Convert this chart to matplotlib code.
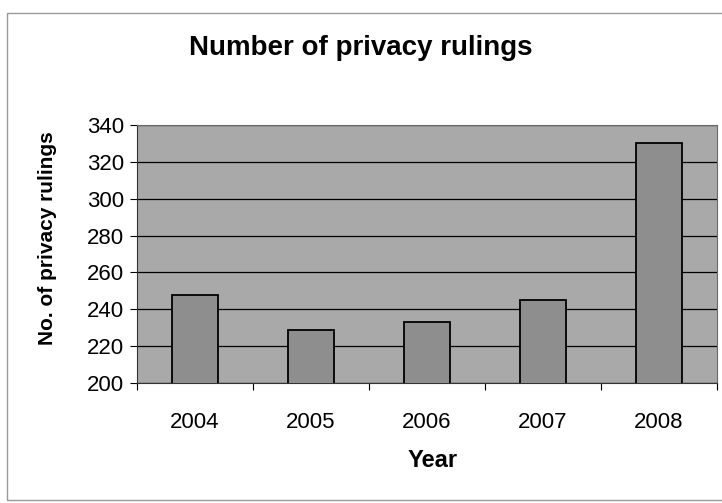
import matplotlib
matplotlib.use('Agg')
import matplotlib.pyplot as plt
from matplotlib.patches import Rectangle

years = ['2004', '2005', '2006', '2007', '2008']
rulings = [248, 229, 233, 245, 330]
y_ticks = [200, 220, 240, 260, 280, 300, 320, 340]

plt.rcParams['font.family'] = ['Liberation Sans', 'DejaVu Sans']


def main():
    fig = plt.figure(figsize=(7.22, 5.03), dpi=100)
    W, H = 722.0, 503.0
    ax = fig.add_axes([137 / W, 1 - 383 / H, (717 - 137) / W, (383 - 125) / H])

    # chart border, runs off the right edge as in the scan
    fig.patches.append(Rectangle((7 / W, 1 - 500 / H), 730 / W, 487 / H,
                                 transform=fig.transFigure, fill=False,
                                 edgecolor='#9a9a9a', linewidth=1.0))

    ax.set_facecolor('#a9a9a9')
    x = list(range(len(years)))
    ax.bar(x, rulings, width=0.4, color='#8e8e8e', edgecolor='black',
           linewidth=1.3, zorder=3)

    ax.set_ylim(200, 340)
    ax.set_xlim(-0.5, len(years) - 0.5)
    ax.set_yticks(y_ticks)
    ax.set_yticklabels([str(t) for t in y_ticks], fontsize=16)
    ax.yaxis.grid(True, color='black', linewidth=0.9, zorder=1)
    ax.set_axisbelow(True)

    # category labels centred, ticks between categories
    ax.set_xticks(x)
    ax.set_xticklabels(years, fontsize=16)
    ax.tick_params(axis='x', length=0, pad=21)
    ax.set_xticks([i - 0.5 for i in range(len(years) + 1)], minor=True)
    ax.tick_params(axis='x', which='minor', length=5, width=0.8, direction='out')
    ax.tick_params(axis='y', length=5, width=0.8, direction='out', pad=4)

    for s in ['top', 'right']:
        ax.spines[s].set_color('#6a6a6a')
        ax.spines[s].set_linewidth(0.8)
    ax.spines['left'].set_color('#333333')
    ax.spines['bottom'].set_color('#333333')

    ax.set_ylabel('No. of privacy rulings', fontsize=15, fontweight='bold')
    ax.yaxis.set_label_coords(-0.138, 0.56)
    ax.set_xlabel('Year', fontsize=17, fontweight='bold')
    ax.xaxis.set_label_coords(0.51, -0.255)

    fig.text(0.5, 1 - 48 / H, 'Number of privacy rulings', fontsize=20,
             fontweight='bold', ha='center', va='center')

    fig.savefig('out.png', dpi=100)


if __name__ == '__main__':
    main()
